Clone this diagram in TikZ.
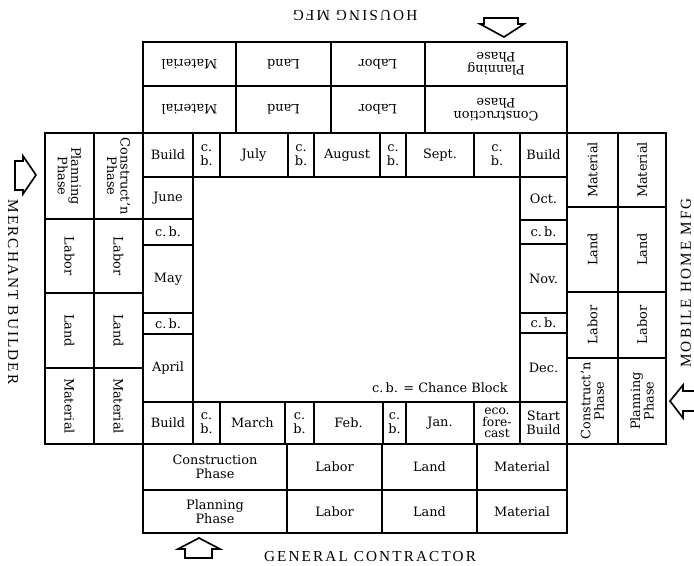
\documentclass[tikz,border=0pt]{standalone}
\usepackage{fontspec}
\setmainfont{DejaVu Serif}
\newfontfamily\sidefont[LetterSpace=14]{Liberation Serif}
\usepackage{tikz}
\usetikzlibrary{calc}

\begin{document}
\begin{tikzpicture}[
  x=0.3mm, y=-0.3mm,
  cell/.style 2 args={draw, line width=1pt, minimum width=#1*0.3mm, minimum height=#2*0.3mm,
    inner sep=0pt, align=center, font=\fontsize{11}{11.5}\selectfont},
  frame/.style={line width=2.4pt, line join=miter},
  ring/.style={line width=1.6pt},
  blockarrow/.style={line width=1.4pt, line join=miter},
  sidelabel/.style={inner sep=0pt, font=\sidefont\fontsize{13}{13}\selectfont}
]
\useasboundingbox (0,0) rectangle (694,565);
\node[cell={93}{44}, rotate=180] (hmat1) at (189.5,64) {Material};
\node[cell={95}{44}, rotate=180] (hland1) at (283.5,64) {Land};
\node[cell={94}{44}, rotate=180] (hlab1) at (378,64) {Labor};
\node[cell={142}{44}, rotate=180] (hplan) at (496,64) {Planning\\Phase};
\node[cell={93}{47}, rotate=180] (hmat2) at (189.5,109.5) {Material};
\node[cell={95}{47}, rotate=180] (hland2) at (283.5,109.5) {Land};
\node[cell={94}{47}, rotate=180] (hlab2) at (378,109.5) {Labor};
\node[cell={142}{47}, rotate=180] (hcons) at (496,109.5) {Construction\\Phase};
\node[cell={86}{49}, rotate=-90] (mplan) at (69.5,176) {Planning\\Phase};
\node[cell={74}{49}, rotate=-90] (mlab1) at (69.5,256) {Labor};
\node[cell={75}{49}, rotate=-90] (mland1) at (69.5,330.5) {Land};
\node[cell={76}{49}, rotate=-90] (mmat1) at (69.5,406) {Material};
\node[cell={86}{49}, rotate=-90] (mcons) at (118.5,176) {Construct'n\\Phase};
\node[cell={74}{49}, rotate=-90] (mlab2) at (118.5,256) {Labor};
\node[cell={75}{49}, rotate=-90] (mland2) at (118.5,330.5) {Land};
\node[cell={76}{49}, rotate=-90] (mmat2) at (118.5,406) {Material};
\node[cell={74}{51}, rotate=90] (omat1) at (592.5,170) {Material};
\node[cell={85}{51}, rotate=90] (oland1) at (592.5,249.5) {Land};
\node[cell={66}{51}, rotate=90] (olab1) at (592.5,325) {Labor};
\node[cell={86}{51}, rotate=90] (ocons) at (592.5,401) {Construct'n\\Phase};
\node[cell={74}{48}, rotate=90] (omat2) at (642,170) {Material};
\node[cell={85}{48}, rotate=90] (oland2) at (642,249.5) {Land};
\node[cell={66}{48}, rotate=90] (olab2) at (642,325) {Labor};
\node[cell={86}{48}, rotate=90] (oplan) at (642,401) {Planning\\Phase};
\node[cell={144}{46}] (gcons) at (215,467) {Construction\\Phase};
\node[cell={95}{46}] (glab1) at (334.5,467) {Labor};
\node[cell={95}{46}] (gland1) at (429.5,467) {Land};
\node[cell={90}{46}] (gmat1) at (522,467) {Material};
\node[cell={144}{43}] (gplan) at (215,511.5) {Planning\\Phase};
\node[cell={95}{43}] (glab2) at (334.5,511.5) {Labor};
\node[cell={95}{43}] (gland2) at (429.5,511.5) {Land};
\node[cell={90}{43}] (gmat2) at (522,511.5) {Material};
\node[cell={50}{44}] (tbuild) at (168,155) {Build};
\node[cell={27}{44}] (tcb1) at (206.5,155) {c.\\b.};
\node[cell={68}{44}] (july) at (254,155) {July};
\node[cell={26}{44}] (tcb2) at (301,155) {c.\\b.};
\node[cell={66}{44}] (aug) at (347,155) {August};
\node[cell={26}{44}] (tcb3) at (393,155) {c.\\b.};
\node[cell={68}{44}] (sept) at (440,155) {Sept.};
\node[cell={46}{44}] (tcb4) at (497,155) {c.\\b.};
\node[cell={47}{44}] (tbuild2) at (543.5,155) {Build};
\node[cell={50}{42}] (june) at (168,198) {June};
\node[cell={50}{26}] (lcb1) at (168,232) {c.\,b.};
\node[cell={50}{68}] (may) at (168,279) {May};
\node[cell={50}{21}] (lcb2) at (168,323.5) {c.\,b.};
\node[cell={50}{68}] (april) at (168,368) {April};
\node[cell={47}{43}] (oct) at (543.5,198.5) {Oct.};
\node[cell={47}{24}] (rcb1) at (543.5,232) {c.\,b.};
\node[cell={47}{69}] (nov) at (543.5,278.5) {Nov.};
\node[cell={47}{20}] (rcb2) at (543.5,323) {c.\,b.};
\node[cell={47}{69}] (dec) at (543.5,367.5) {Dec.};
\node[cell={50}{42}] (bbuild) at (168,423) {Build};
\node[cell={27}{42}] (bcb1) at (206.5,423) {c.\\b.};
\node[cell={65}{42}] (march) at (252.5,423) {March};
\node[cell={29}{42}] (bcb2) at (299.5,423) {c.\\b.};
\node[cell={69}{42}] (feb) at (348.5,423) {Feb.};
\node[cell={23}{42}] (bcb3) at (394.5,423) {c.\\b.};
\node[cell={68}{42}] (jan) at (440,423) {Jan.};
\node[cell={46}{42}, font=\fontsize{10.5}{10}\selectfont] (eco) at (497,423) {eco.\\fore-\\cast};
\node[cell={47}{42}] (start) at (543.5,423) {Start\\Build};
\node[inner sep=0pt, anchor=east, font=\fontsize{11}{11}\selectfont] (key) at (508,388) {c.\,b. = Chance Block};
\draw[ring] (143,133) rectangle (567,444);
\draw[frame] (193,177) rectangle (520,402);
\draw[frame] (143,42) -- (567,42) -- (567,133) -- (666,133) -- (666,444) -- (567,444)
  -- (567,533) -- (143,533) -- (143,444) -- (45,444) -- (45,133) -- (143,133) -- cycle;
\draw[frame] (45,133) -- (666,133);
\draw[frame] (45,444) -- (666,444);
\draw[blockarrow] (484,18) -- (518,18) -- (518,24) -- (524,24) -- (504,37) -- (480,24) -- (484,24) -- cycle;
\draw[blockarrow] (15,161) -- (23,161) -- (23,156) -- (36,175) -- (23,194) -- (23,190) -- (15,190) -- cycle;
\draw[blockarrow] (185,558) -- (185,549) -- (178,549) -- (199,538) -- (220,549) -- (212,549) -- (212,558) -- cycle;
\draw[blockarrow] (700,391) -- (683,391) -- (683,385) -- (670,401) -- (683,418) -- (683,411) -- (700,411);
\node[sidelabel, rotate=180] (housing) at (355,15) {HOUSING MFG};
\node[sidelabel] (general) at (370,557) {GENERAL CONTRACTOR};
\node[sidelabel, rotate=-90] (merchant) at (13,292) {MERCHANT BUILDER};
\node[sidelabel, rotate=90] (mobile) at (686,283) {MOBILE HOME MFG};
\end{tikzpicture}
\end{document}
